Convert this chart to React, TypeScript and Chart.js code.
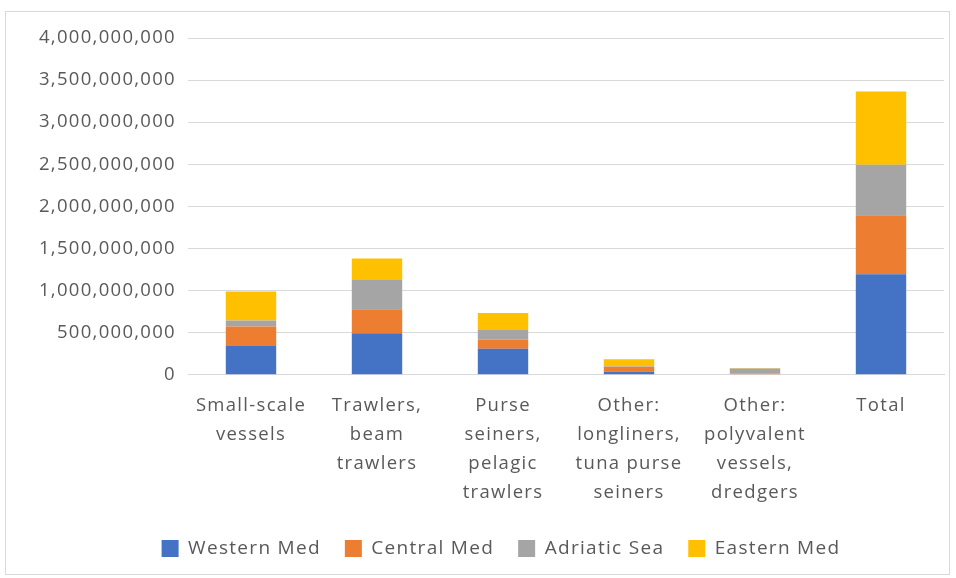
import React, { useEffect, useRef } from "react";
import { Chart, registerables } from "chart.js";

Chart.register(...registerables);

const categories: string[][] = [
  ["Small-scale", "vessels"],
  ["Trawlers,", "beam", "trawlers"],
  ["Purse", "seiners,", "pelagic", "trawlers"],
  ["Other:", "longliners,", "tuna purse", "seiners"],
  ["Other:", "polyvalent", "vessels,", "dredgers"],
  ["Total"],
];

const westernMed = [341e6, 495e6, 309e6, 36e6, 8e6, 1195e6];
const centralMed = [233e6, 285e6, 110e6, 59e6, 4e6, 701e6];
const adriaticSea = [71e6, 345e6, 112e6, 8e6, 62e6, 598e6];
const easternMed = [344e6, 255e6, 202e6, 81e6, 8e6, 871e6];

const FONT = "'Open Sans', sans-serif";
const TEXT = "#595959";
const SPACING = "1.3px";
const LEGEND_SHIFT = 26;

const spacingPlugin = {
  id: "letterSpacing",
  beforeUpdate(chart: any) {
    chart.ctx.letterSpacing = SPACING;
  },
  beforeLayout(chart: any) {
    chart.ctx.letterSpacing = SPACING;
  },
  afterLayout(chart: any) {
    const lg = chart.legend;
    if (lg) {
      lg.left += LEGEND_SHIFT;
      lg.right += LEGEND_SHIFT;
    }
  },
  beforeDraw(chart: any) {
    chart.ctx.letterSpacing = SPACING;
  },
};

export default function App() {
  const ref = useRef<HTMLCanvasElement>(null);
  useEffect(() => {
    if (!ref.current) return;
    const chart = new Chart(ref.current, {
      type: "bar",
      data: {
        labels: categories,
        datasets: [
          { label: "Western Med", data: westernMed, backgroundColor: "#4472C4" },
          { label: "Central Med", data: centralMed, backgroundColor: "#ED7D31" },
          { label: "Adriatic Sea", data: adriaticSea, backgroundColor: "#A5A5A5" },
          { label: "Eastern Med", data: easternMed, backgroundColor: "#FFC000" },
        ],
      },
      plugins: [spacingPlugin],
      options: {
        animation: false,
        responsive: true,
        maintainAspectRatio: false,
        layout: { padding: { top: 26, right: 5, left: 0, bottom: 6 } },
        datasets: { bar: { barPercentage: 0.8, categoryPercentage: 0.5 } },
        plugins: {
          legend: {
            position: "bottom",
            labels: {
              color: TEXT,
              font: { family: FONT, size: 19 },
              boxWidth: 17,
              boxHeight: 17,
              padding: 24,
            },
          },
          tooltip: { enabled: false },
        },
        scales: {
          x: {
            stacked: true,
            grid: { display: false },
            border: { color: "#d9d9d9" },
            ticks: {
              color: TEXT,
              font: { family: FONT, size: 18.5, lineHeight: 1.57 },
              maxRotation: 0,
              autoSkip: false,
              padding: 8,
            },
          },
          y: {
            stacked: true,
            min: 0,
            max: 4000000000,
            border: { display: false },
            grid: { color: "#d9d9d9", drawTicks: false, lineWidth: 1 },
            ticks: {
              stepSize: 500000000,
              color: TEXT,
              padding: 12,
              font: { family: FONT, size: 18.5 },
              callback: (v: any) => Number(v).toLocaleString("en-US"),
            },
            afterFit: (s: any) => {
              s.width = 182;
            },
          },
        },
      },
    });
    return () => chart.destroy();
  }, []);
  return (
    <div
      style={{
        position: "absolute",
        left: 5,
        top: 11,
        width: 945,
        height: 564,
        border: "1px solid #d9d9d9",
        boxSizing: "border-box",
        background: "#fff",
      }}
    >
      <canvas ref={ref} />
    </div>
  );
}
